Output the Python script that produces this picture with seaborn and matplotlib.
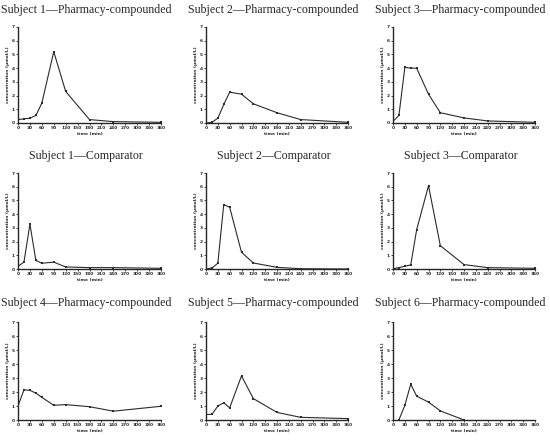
import matplotlib
matplotlib.use("Agg")
import matplotlib.pyplot as plt
import numpy as np
import pandas as pd
import seaborn as sns

# sampling times (min)
time_min = [0, 15, 30, 45, 60, 90, 120, 180, 240, 360]
x_ticks = list(range(0, 361, 30))
y_ticks = list(range(0, 8))

# concentrations (umol/L)
s1_pharmacy = [0.25, 0.3, 0.35, 0.55, 1.45, 5.2, 2.3, 0.25, 0.1, 0.05]
s2_pharmacy = [0.0, 0.05, 0.35, 1.35, 2.25, 2.1, 1.4, 0.75, 0.25, 0.05]
s3_pharmacy = [0.12, 0.55, 4.05, 4.0, 4.0, 2.1, 0.75, 0.37, 0.15, 0.05]
s1_comparator = [0.2, 0.5, 3.27, 0.63, 0.42, 0.5, 0.15, 0.1, 0.1, 0.05]
s2_comparator = [0.0, 0.07, 0.42, 4.7, 4.5, 1.22, 0.44, 0.12, 0.02, 0.0]
s3_comparator = [0.02, 0.1, 0.2, 0.3, 2.87, 6.07, 1.7, 0.32, 0.1, 0.05]
s4_pharmacy = [1.0, 2.15, 2.12, 1.92, 1.62, 1.05, 1.1, 0.95, 0.63, 0.98]
s5_pharmacy = [0.4, 0.4, 1.0, 1.23, 0.87, 3.15, 1.53, 0.54, 0.19, 0.1]
s6_pharmacy = [np.nan, 0.0, 1.05, 2.56, 1.7, 1.28, 0.65, 0.0, np.nan, np.nan]

titles = [
    "Subject 1\u2014Pharmacy-compounded", "Subject 2\u2014Pharmacy-compounded",
    "Subject 3\u2014Pharmacy-compounded",
    "Subject 1\u2014Comparator", "Subject 2\u2014Comparator", "Subject 3\u2014Comparator",
    "Subject 4\u2014Pharmacy-compounded", "Subject 5\u2014Pharmacy-compounded",
    "Subject 6\u2014Pharmacy-compounded",
]
series = [s1_pharmacy, s2_pharmacy, s3_pharmacy,
          s1_comparator, s2_comparator, s3_comparator,
          s4_pharmacy, s5_pharmacy, s6_pharmacy]

sns.set_style("ticks")
plt.rcParams['font.family'] = ['DejaVu Sans']

fig = plt.figure(figsize=(5.5, 4.44), dpi=100)

W, H = 550.0, 444.0
# axes boxes in pixels: left, top, right, bottom
col_px = [(18, 161), (206, 348), (393, 535)]
row_px = [(27, 123), (173, 269), (322, 420)]
title_px = [10, 156, 303]

for i, (title, vals) in enumerate(zip(titles, series)):
    r, c = divmod(i, 3)
    l, rr = col_px[c]
    t, b = row_px[r]
    ax = fig.add_axes([l / W, 1 - b / H, (rr - l) / W, (b - t) / H])
    df = pd.DataFrame({"time": time_min, "conc": vals})
    sns.lineplot(data=df, x="time", y="conc", ax=ax, color="#2b2b2b",
                 linewidth=0.8, marker="s", markersize=1.6,
                 markeredgewidth=0, estimator=None)
    ax.set_xlim(0, 360)
    ax.set_ylim(0, 7)
    ax.set_xticks(x_ticks)
    ax.set_yticks(y_ticks)
    ax.tick_params(labelsize=3.2, length=1.5, width=0.6, pad=1)
    for lab in ax.get_xticklabels() + ax.get_yticklabels():
        lab.set_fontweight("bold")
    for s in ["left", "bottom"]:
        ax.spines[s].set_linewidth(1.0)
    sns.despine(ax=ax)
    ax.set_xlabel("time (min)", fontsize=3.2, fontweight="bold", labelpad=1)
    ax.set_ylabel("concentration (\u00b5mol/L)", fontsize=3.2, fontweight="bold", labelpad=1)
    fig.text((l + rr) / 2 / W - 0.006, 1 - title_px[r] / H, title,
             ha="center", va="center", fontsize=8.6,
             family=["Liberation Serif", "DejaVu Serif"])

fig.savefig("out.png", dpi=100)
